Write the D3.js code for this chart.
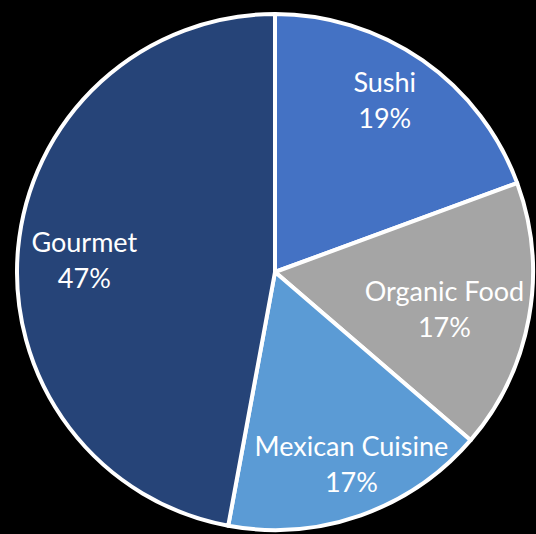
<!DOCTYPE html>
<html lang="en-US">
<head>
    <meta charset="utf-8">
    <script src="https://d3js.org/d3.v7.min.js"></script>
</head>
<body>
<style>
    html, body { margin: 0; padding: 0; background: #000; }
    svg { display: block; }
    svg text { font-family: Lato, "Open Sans", sans-serif; fill: #fff; }
</style>

<svg width="536" height="534"></svg>

<script>
// data (percent labels come from these)
var categories = ["Sushi", "Organic Food", "Mexican Cuisine", "Gourmet"];
var values = [19.4, 16.9, 16.6, 47.1];
var colors = ["#4472C4", "#A5A5A5", "#5B9BD5", "#264478"];

// small hand nudges so labels sit like the original (Excel best fit)
var labelNudge = [[-1, -3], [-21, 13], [12, 20], [2, 16]];

var svg = d3.select("svg");
var cx = 275, cy = 272, radius = 258;

var total = d3.sum(values);
var slices = categories.map((name, i) => ({name, value: values[i], color: colors[i], nudge: labelNudge[i]}));

var pie = d3.pie().sort(null).value(d => d.value);
var arc = d3.arc().innerRadius(0).outerRadius(radius);
var labelArc = d3.arc().innerRadius(radius * 0.75).outerRadius(radius * 0.75);

var g = svg.append("g").attr("transform", `translate(${cx},${cy})`);

g.selectAll("path")
    .data(pie(slices))
    .enter().append("path")
    .attr("d", arc)
    .attr("fill", d => d.data.color)
    .attr("stroke", "#fff")
    .attr("stroke-width", 4)
    .attr("stroke-linejoin", "round");

var label = g.selectAll(".label")
    .data(pie(slices))
    .enter().append("text")
    .attr("class", "label")
    .attr("text-anchor", "middle")
    .attr("font-size", 27)
    .attr("transform", d => {
        var c = labelArc.centroid(d);
        return `translate(${c[0] + d.data.nudge[0]},${c[1] + d.data.nudge[1]})`;
    });

label.append("tspan").attr("x", 0).attr("y", -18).text(d => d.data.name);
label.append("tspan").attr("x", 0).attr("y", 18)
    .text(d => Math.round(d.data.value / total * 100) + "%");
</script>
</body>
</html>
